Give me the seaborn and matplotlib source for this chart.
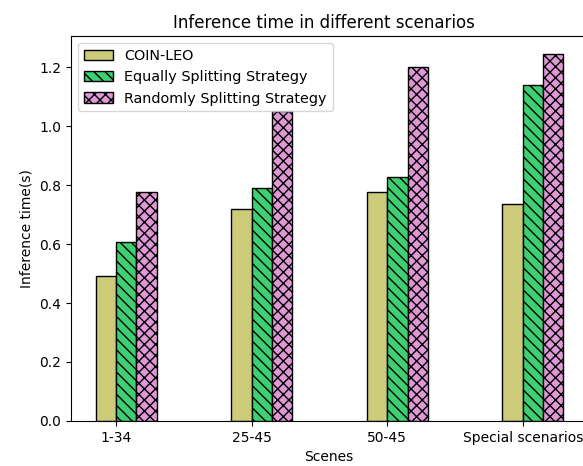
import seaborn as sns
import matplotlib.pyplot as plt
import pandas as pd
from matplotlib.patches import Patch

# data
scenes = ['1-34', '25-45', '50-45', 'Special scenarios']
coin_leo = [0.49, 0.72, 0.775, 0.735]
equally = [0.607, 0.79, 0.828, 1.14]
randomly = [0.777, 1.05, 1.2, 1.243]

methods = ['COIN-LEO', 'Equally Splitting Strategy', 'Randomly Splitting Strategy']
colors = ['#cccb7a', '#3dcf71', '#df98d6']
hatches = ['', '\\\\\\', 'xxx']

df = pd.DataFrame({
    'Scene': scenes * 3,
    'Time': coin_leo + equally + randomly,
    'Method': [m for m in methods for _ in scenes],
})

fig = plt.figure(figsize=(5.83, 4.66), dpi=100)
ax = fig.add_axes([0.1218, 0.0966, 0.92, 0.826])

sns.barplot(data=df, x='Scene', y='Time', hue='Method', palette=colors,
            width=0.45, edgecolor='black', linewidth=1, saturation=1,
            legend=False, ax=ax)

# hatch each series
for cont, h in zip(ax.containers, hatches):
    for bar in cont:
        bar.set_hatch(h)

# ticks sit between first and second bar
w = 0.15
ax.set_xticks([i - w / 2 for i in range(len(scenes))])
ax.set_xticklabels(scenes)
ax.set_xlim(-0.407, 3.549)
ax.set_ylim(0, 1.305)

handles = [Patch(facecolor=c, edgecolor='black', hatch=h, label=m)
           for c, h, m in zip(colors, hatches, methods)]
ax.legend(handles=handles, loc='upper left', fontsize=10.4)

# the original figure is cropped on the right, so the title sits left of the axes centre
ax.set_title('Inference time in different scenarios', fontsize=12, x=0.471)
ax.set_xlabel('Scenes', x=0.481)
ax.set_ylabel('Inference time(s)')

plt.savefig('out.png', dpi=100)
